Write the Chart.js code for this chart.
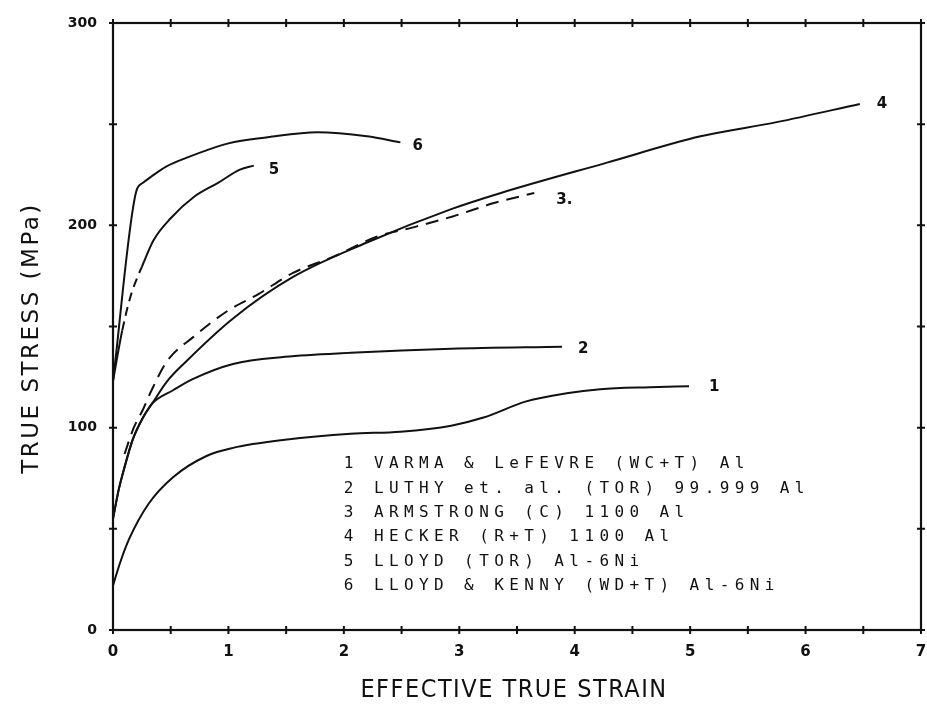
<!DOCTYPE html>
<html>
<head>
<meta charset="utf-8">
<script src="https://cdn.jsdelivr.net/npm/chart.js@4/dist/chart.umd.min.js"></script>
<style>
  body { margin: 0; background: #fff; }
  canvas { display: block; }
</style>
</head>
<body>
<canvas id="chart" width="927" height="711"></canvas>
<script>
// true stress vs effective true strain, six aluminium curves

// 1 VARMA & LeFEVRE
const strain1 = [0, 0.06, 0.14, 0.31, 0.52, 0.81, 1.04, 1.49, 2.06, 2.49, 2.93, 3.21, 3.58, 3.93, 4.22, 4.65, 4.99];
const stress1 = [22, 33, 45, 62.5, 75.5, 86, 90, 94, 97, 98, 101, 105, 113, 117, 119, 120, 120.5];

// 2 LUTHY et al.
const strain2 = [0, 0.05, 0.1, 0.17, 0.26, 0.34, 0.52, 0.69, 1.04, 1.49, 2.06, 2.93, 3.89];
const stress2 = [55, 69.5, 80.5, 94, 105, 112, 118.5, 124, 131.5, 135, 137, 139, 140];

// 3 ARMSTRONG (dashed)
const strain3 = [0.1, 0.18, 0.26, 0.33, 0.47, 0.7, 1.0, 1.26, 1.56, 1.91, 2.29, 2.6, 2.95, 3.3, 3.65];
const stress3 = [87, 100, 109, 118, 133, 145, 158, 166, 176.5, 184.5, 194.5, 199, 204.5, 211, 216];

// 4 HECKER
const strain4 = [0, 0.05, 0.1, 0.17, 0.26, 0.34, 0.47, 0.62, 1.04, 1.56, 2.2, 2.93, 3.36, 4.28, 5.09, 5.75, 6.47];
const stress4 = [55, 69.5, 80.5, 94, 105, 112, 123, 132, 154, 174.5, 191.5, 208, 216, 231, 244, 251, 260];

// 5 LLOYD (TOR)
const strain5 = [0, 0.04, 0.08, 0.15, 0.22, 0.25, 0.35, 0.5, 0.7, 0.91, 1.1, 1.22];
const stress5 = [123, 136, 148, 164.5, 175.5, 179.5, 192.5, 203.5, 214, 221, 227.5, 229.5];

// 6 LLOYD & KENNY
const strain6 = [0, 0.2, 0.26, 0.33, 0.46, 0.62, 1.0, 1.34, 1.77, 2.2, 2.49];
const stress6 = [123, 216.5, 221, 224, 229, 233, 240.5, 243.5, 246, 244, 241];

const curveLabels = ['1', '2', '3.', '4', '5', '6'];
const legendNumbers = ['1', '2', '3', '4', '5', '6'];
const legendLines = [
    'VARMA & LeFEVRE (WC+T) Al',
    'LUTHY et. al. (TOR) 99.999 Al',
    'ARMSTRONG (C) 1100 Al',
    'HECKER (R+T) 1100 Al',
    'LLOYD (TOR) Al-6Ni',
    'LLOYD & KENNY (WD+T) Al-6Ni'
];

const xTickLabels = ['0', '1', '2', '3', '4', '5', '6', '7'];
const yTickLabels = ['0', '100', '200', '300'];
const xTitle = 'EFFECTIVE TRUE STRAIN';
const yTitle = 'TRUE STRESS (MPa)';

const strains = [strain1, strain2, strain3, strain4, strain5, strain6];
const stresses = [stress1, stress2, stress3, stress4, stress5, stress6];

// curve 5 has a short dashed stretch near the start
const dash5From = 2, dash5To = 5;

// label offsets from each curve's last point, px
const labelOffsets = [[20, 1], [16, 2], [22, 7], [17, 0], [15, 4], [12, 4]];

function toPoints(xs, ys) {
    return xs.map((x, i) => ({x: x, y: ys[i]}));
}

const datasets = strains.map((xs, i) => {
    const ds = {
        label: curveLabels[i],
        data: toPoints(xs, stresses[i]),
        borderColor: '#111',
        borderWidth: 2,
        pointRadius: 0,
        fill: false,
        cubicInterpolationMode: 'monotone'
    };
    if (i === 2) ds.borderDash = [13, 8];
    if (i === 4) {
        ds.segment = {
            borderDash: ctx => (ctx.p0DataIndex >= dash5From && ctx.p1DataIndex <= dash5To) ? [9, 6] : undefined
        };
    }
    return ds;
});

// frame with cross ticks on all four sides, curve numbers, key and axis titles
const decorations = {
    id: 'decorations',
    afterDatasetsDraw(chart) {
        const {ctx, chartArea: a, scales: {x, y}} = chart;
        ctx.save();
        ctx.strokeStyle = '#111';
        ctx.lineWidth = 2.2;
        ctx.strokeRect(a.left, a.top, a.right - a.left, a.bottom - a.top);

        ctx.lineWidth = 2;
        for (let v = 0; v <= 7.001; v += 0.5) {
            const px = x.getPixelForValue(v);
            ctx.beginPath();
            ctx.moveTo(px, a.bottom - 4); ctx.lineTo(px, a.bottom + 4);
            ctx.moveTo(px, a.top - 4); ctx.lineTo(px, a.top + 4);
            ctx.stroke();
        }
        for (let v = 0; v <= 300; v += 50) {
            const py = y.getPixelForValue(v);
            ctx.beginPath();
            ctx.moveTo(a.left - 4, py); ctx.lineTo(a.left + 4, py);
            ctx.moveTo(a.right - 4, py); ctx.lineTo(a.right + 4, py);
            ctx.stroke();
        }

        // curve numbers at the end of each line
        ctx.fillStyle = '#111';
        ctx.font = 'bold 15px "DejaVu Sans"';
        ctx.textBaseline = 'middle';
        ctx.textAlign = 'left';
        chart.data.datasets.forEach((ds, i) => {
            const pts = chart.getDatasetMeta(i).data;
            const last = pts[pts.length - 1];
            ctx.fillText(curveLabels[i], last.x + labelOffsets[i][0], last.y + labelOffsets[i][1]);
        });

        // key, plotter style fixed-pitch lettering
        ctx.font = '16px "DejaVu Sans Mono"';
        ctx.letterSpacing = '5.4px';
        const kx = x.getPixelForValue(2.0);
        const ky = y.getPixelForValue(82);
        legendLines.forEach((line, i) => {
            ctx.fillText(legendNumbers[i] + ' ' + line, kx, ky + i * 24.4);
        });

        // axis titles
        ctx.textAlign = 'center';
        ctx.font = '25px "DejaVu Sans Condensed", "DejaVu Sans"';
        ctx.letterSpacing = '1.5px';
        ctx.fillText(xTitle, 514, 690);

        ctx.font = '23px "DejaVu Sans"';
        ctx.letterSpacing = '2.5px';
        ctx.translate(32, 338);
        ctx.rotate(-Math.PI / 2);
        ctx.fillText(yTitle, 0, 0);
        ctx.restore();
    }
};

new Chart(document.getElementById('chart'), {
    type: 'line',
    data: {datasets: datasets},
    options: {
        responsive: false,
        animation: false,
        devicePixelRatio: 1,
        layout: {padding: {top: 23, right: 6, left: 0, bottom: 0}},
        plugins: {
            legend: {display: false},
            tooltip: {enabled: false}
        },
        scales: {
            x: {
                type: 'linear',
                min: 0,
                max: 7,
                grid: {display: false, drawTicks: false},
                border: {display: false},
                ticks: {
                    stepSize: 0.5,
                    color: '#111',
                    font: {family: '"DejaVu Sans"', size: 15, weight: 'bold'},
                    padding: 13,
                    maxRotation: 0,
                    autoSkip: false,
                    callback: v => Number.isInteger(v) ? xTickLabels[v] : ''
                },
                afterFit: s => {
                    s.height = 81;
                    s.paddingLeft = 0;
                    s.paddingRight = 0;
                }
            },
            y: {
                min: 0,
                max: 300,
                grid: {display: false, drawTicks: false},
                border: {display: false},
                ticks: {
                    stepSize: 50,
                    color: '#111',
                    font: {family: '"DejaVu Sans"', size: 14, weight: 'bold'},
                    padding: 16,
                    callback: v => v % 100 === 0 ? yTickLabels[v / 100] : ''
                },
                afterFit: s => {
                    s.width = 113;
                    s.paddingTop = 0;
                    s.paddingBottom = 0;
                }
            }
        }
    },
    plugins: [decorations]
});
</script>
</body>
</html>
